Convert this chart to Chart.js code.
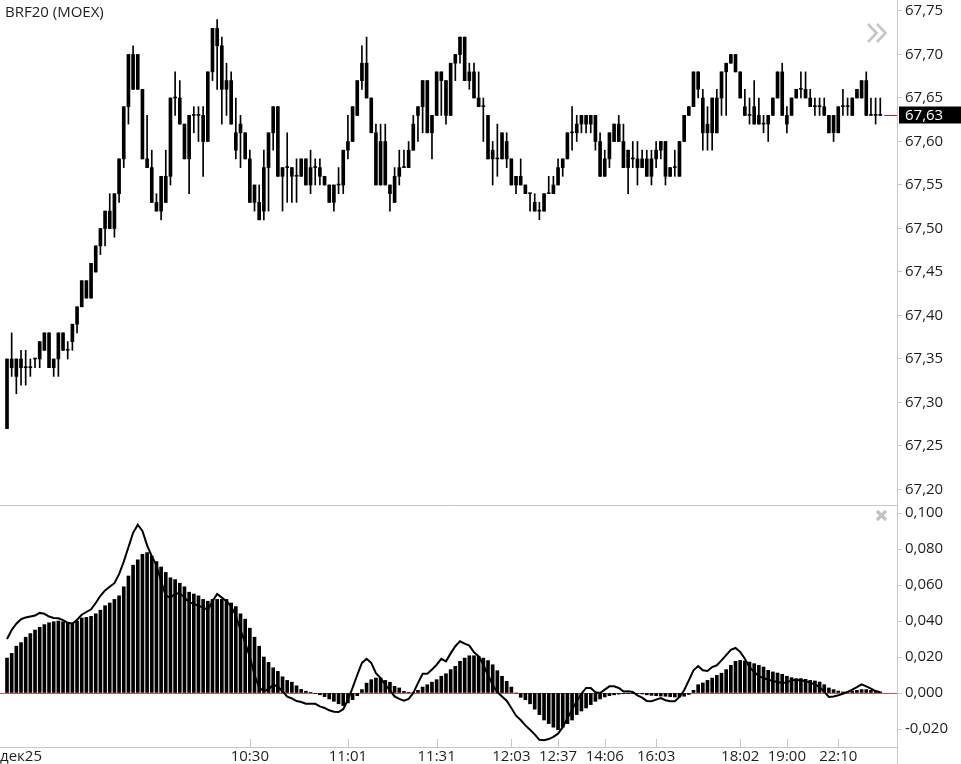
<!DOCTYPE html>
<html>
<head>
<meta charset="utf-8">
<script src="https://cdn.jsdelivr.net/npm/chart.js@4.4.1/dist/chart.umd.min.js"></script>
<style>
    body { margin: 0; background: #fff; }
    #wrap { position: relative; width: 961px; height: 764px; overflow: hidden; font-family: "Open Sans", sans-serif; }
    #price-canvas { position: absolute; left: 0; top: 0; }
    #macd-canvas { position: absolute; left: 0; top: 506px; }
    #title { position: absolute; left: 5px; top: 1px; font-size: 15px; color: #1e1e1e; white-space: nowrap; }
    #icons { position: absolute; left: 0; top: 0; pointer-events: none; }
</style>
</head>
<body>
<div id="wrap">
    <canvas id="price-canvas" width="961" height="506"></canvas>
    <canvas id="macd-canvas" width="961" height="258"></canvas>
    <div id="title">BRF20 (MOEX)</div>
    <svg id="icons" width="961" height="764">
        <polyline points="868,24 876.5,33 868,42" fill="none" stroke="#c6c6c6" stroke-width="2.6"/>
        <polyline points="877,24 885.5,33 877,42" fill="none" stroke="#c6c6c6" stroke-width="2.6"/>
        <line x1="877" y1="511" x2="886" y2="520" stroke="#c2c2c2" stroke-width="3.2"/>
        <line x1="886" y1="511" x2="877" y2="520" stroke="#c2c2c2" stroke-width="3.2"/>
    </svg>
</div>
<script>
const opens = [
    67.27, 67.35, 67.33, 67.35, 67.34, 67.34, 67.35, 67.35, 67.36, 67.38,
    67.34, 67.35, 67.38, 67.36, 67.37, 67.39, 67.41, 67.44, 67.42, 67.45,
    67.48, 67.50, 67.52, 67.50, 67.54, 67.58, 67.64, 67.70, 67.66, 67.66,
    67.58, 67.57, 67.53, 67.52, 67.56, 67.56, 67.65, 67.65, 67.62, 67.58,
    67.63, 67.63, 67.63, 67.60, 67.68, 67.73, 67.71, 67.67, 67.67, 67.61,
    67.61, 67.61, 67.58, 67.53, 67.53, 67.52, 67.57, 67.61, 67.64, 67.56,
    67.57, 67.57, 67.56, 67.56, 67.58, 67.55, 67.57, 67.57, 67.56, 67.55,
    67.53, 67.55, 67.55, 67.59, 67.60, 67.63, 67.67, 67.69, 67.65, 67.61,
    67.55, 67.60, 67.55, 67.53, 67.56, 67.57, 67.57, 67.59, 67.63, 67.64,
    67.67, 67.61, 67.63, 67.68, 67.67, 67.63, 67.69, 67.70, 67.72, 67.67,
    67.68, 67.65, 67.64, 67.63, 67.58, 67.58, 67.58, 67.60, 67.58, 67.55,
    67.56, 67.55, 67.54, 67.53, 67.52, 67.52, 67.54, 67.54, 67.55, 67.57,
    67.58, 67.61, 67.61, 67.62, 67.63, 67.62, 67.63, 67.60, 67.56, 67.58,
    67.60, 67.62, 67.60, 67.57, 67.58, 67.58, 67.57, 67.58, 67.56, 67.58,
    67.59, 67.60, 67.56, 67.57, 67.56, 67.60, 67.63, 67.64, 67.68, 67.65,
    67.61, 67.61, 67.65, 67.65, 67.68, 67.69, 67.70, 67.68, 67.64, 67.63,
    67.64, 67.62, 67.62, 67.62, 67.63, 67.65, 67.68, 67.63, 67.63, 67.65,
    67.66, 67.66, 67.65, 67.64, 67.64, 67.64, 67.63, 67.61, 67.61, 67.64,
    67.64, 67.63, 67.65, 67.65, 67.67, 67.63, 67.63, 67.63,
];
const highs = [
    67.35, 67.38, 67.35, 67.36, 67.36, 67.35, 67.35, 67.37, 67.38, 67.38,
    67.35, 67.38, 67.38, 67.37, 67.39, 67.41, 67.44, 67.44, 67.46, 67.48,
    67.50, 67.52, 67.54, 67.54, 67.58, 67.64, 67.70, 67.71, 67.70, 67.66,
    67.63, 67.59, 67.54, 67.56, 67.59, 67.65, 67.68, 67.67, 67.62, 67.63,
    67.64, 67.64, 67.64, 67.68, 67.73, 67.74, 67.72, 67.69, 67.68, 67.65,
    67.63, 67.61, 67.59, 67.55, 67.55, 67.59, 67.61, 67.64, 67.64, 67.57,
    67.61, 67.57, 67.58, 67.58, 67.58, 67.59, 67.58, 67.58, 67.56, 67.55,
    67.55, 67.57, 67.59, 67.63, 67.64, 67.67, 67.71, 67.72, 67.65, 67.62,
    67.62, 67.62, 67.55, 67.57, 67.59, 67.59, 67.60, 67.63, 67.64, 67.67,
    67.67, 67.63, 67.68, 67.68, 67.67, 67.69, 67.70, 67.72, 67.72, 67.69,
    67.69, 67.68, 67.65, 67.63, 67.60, 67.62, 67.61, 67.61, 67.58, 67.56,
    67.58, 67.55, 67.54, 67.54, 67.53, 67.54, 67.56, 67.56, 67.58, 67.58,
    67.61, 67.64, 67.63, 67.63, 67.63, 67.63, 67.63, 67.61, 67.59, 67.61,
    67.62, 67.63, 67.62, 67.59, 67.60, 67.60, 67.59, 67.59, 67.59, 67.60,
    67.60, 67.60, 67.57, 67.59, 67.60, 67.63, 67.64, 67.68, 67.68, 67.66,
    67.64, 67.65, 67.66, 67.68, 67.69, 67.70, 67.70, 67.68, 67.66, 67.65,
    67.67, 67.65, 67.63, 67.63, 67.65, 67.68, 67.69, 67.64, 67.65, 67.66,
    67.68, 67.68, 67.66, 67.65, 67.65, 67.65, 67.63, 67.63, 67.64, 67.66,
    67.65, 67.65, 67.66, 67.67, 67.68, 67.65, 67.65, 67.65,
];
const lows = [
    67.27, 67.33, 67.31, 67.32, 67.32, 67.33, 67.34, 67.34, 67.36, 67.34,
    67.33, 67.33, 67.36, 67.35, 67.36, 67.38, 67.41, 67.42, 67.42, 67.45,
    67.47, 67.48, 67.50, 67.49, 67.53, 67.57, 67.62, 67.66, 67.66, 67.58,
    67.57, 67.53, 67.52, 67.51, 67.53, 67.55, 67.63, 67.62, 67.58, 67.54,
    67.61, 67.60, 67.56, 67.60, 67.67, 67.66, 67.62, 67.63, 67.62, 67.58,
    67.57, 67.58, 67.53, 67.52, 67.51, 67.51, 67.52, 67.59, 67.56, 67.52,
    67.53, 67.53, 67.53, 67.56, 67.55, 67.54, 67.55, 67.55, 67.55, 67.53,
    67.52, 67.54, 67.54, 67.58, 67.60, 67.63, 67.66, 67.65, 67.61, 67.55,
    67.55, 67.55, 67.52, 67.53, 67.55, 67.57, 67.57, 67.59, 67.60, 67.61,
    67.61, 67.58, 67.63, 67.63, 67.62, 67.63, 67.67, 67.69, 67.67, 67.66,
    67.65, 67.64, 67.60, 67.58, 67.55, 67.56, 67.58, 67.57, 67.55, 67.54,
    67.55, 67.54, 67.52, 67.52, 67.51, 67.52, 67.54, 67.54, 67.55, 67.56,
    67.58, 67.59, 67.60, 67.61, 67.61, 67.61, 67.59, 67.56, 67.56, 67.57,
    67.60, 67.60, 67.57, 67.54, 67.57, 67.55, 67.57, 67.56, 67.55, 67.57,
    67.58, 67.55, 67.56, 67.56, 67.56, 67.60, 67.63, 67.64, 67.65, 67.59,
    67.59, 67.59, 67.61, 67.63, 67.63, 67.69, 67.68, 67.65, 67.63, 67.62,
    67.62, 67.62, 67.61, 67.60, 67.63, 67.65, 67.63, 67.61, 67.63, 67.65,
    67.65, 67.65, 67.64, 67.63, 67.63, 67.63, 67.61, 67.60, 67.61, 67.63,
    67.63, 67.63, 67.65, 67.65, 67.63, 67.63, 67.62, 67.63,
];
const closes = [
    67.35, 67.34, 67.35, 67.34, 67.34, 67.34, 67.35, 67.37, 67.38, 67.34,
    67.35, 67.38, 67.36, 67.36, 67.39, 67.41, 67.44, 67.42, 67.46, 67.48,
    67.50, 67.52, 67.50, 67.54, 67.58, 67.64, 67.70, 67.66, 67.70, 67.58,
    67.57, 67.53, 67.52, 67.56, 67.53, 67.65, 67.65, 67.62, 67.58, 67.63,
    67.63, 67.63, 67.60, 67.68, 67.73, 67.71, 67.66, 67.66, 67.62, 67.59,
    67.62, 67.58, 67.53, 67.55, 67.51, 67.57, 67.61, 67.64, 67.56, 67.57,
    67.57, 67.56, 67.56, 67.58, 67.55, 67.57, 67.57, 67.56, 67.55, 67.53,
    67.55, 67.55, 67.59, 67.60, 67.64, 67.67, 67.69, 67.65, 67.61, 67.55,
    67.60, 67.55, 67.54, 67.56, 67.57, 67.57, 67.59, 67.62, 67.64, 67.67,
    67.61, 67.63, 67.68, 67.67, 67.63, 67.69, 67.70, 67.72, 67.67, 67.68,
    67.65, 67.64, 67.64, 67.58, 67.59, 67.58, 67.61, 67.58, 67.55, 67.56,
    67.55, 67.54, 67.54, 67.52, 67.52, 67.54, 67.54, 67.55, 67.57, 67.58,
    67.61, 67.61, 67.62, 67.63, 67.62, 67.63, 67.60, 67.56, 67.58, 67.61,
    67.62, 67.60, 67.57, 67.59, 67.58, 67.57, 67.58, 67.56, 67.58, 67.59,
    67.60, 67.56, 67.57, 67.57, 67.60, 67.63, 67.64, 67.68, 67.66, 67.61,
    67.62, 67.65, 67.61, 67.68, 67.69, 67.70, 67.68, 67.65, 67.63, 67.63,
    67.62, 67.63, 67.62, 67.63, 67.65, 67.68, 67.63, 67.62, 67.65, 67.66,
    67.66, 67.65, 67.64, 67.64, 67.64, 67.63, 67.61, 67.63, 67.64, 67.64,
    67.64, 67.65, 67.66, 67.67, 67.63, 67.63, 67.63, 67.63,
];

const macdHist = [
    0.0194, 0.022, 0.026, 0.028, 0.031, 0.033, 0.035, 0.0365, 0.038, 0.039,
    0.0396, 0.040, 0.0396, 0.039, 0.039, 0.040, 0.0417, 0.042, 0.0426, 0.044,
    0.046, 0.0485, 0.050, 0.052, 0.054, 0.059, 0.065, 0.071, 0.074, 0.077,
    0.078, 0.076, 0.073, 0.070, 0.067, 0.064, 0.063, 0.061, 0.059, 0.056,
    0.055, 0.054, 0.052, 0.051, 0.052, 0.052, 0.052, 0.052, 0.050, 0.048,
    0.044, 0.041, 0.036, 0.031, 0.026, 0.020, 0.017, 0.014, 0.012, 0.009,
    0.007, 0.006, 0.004, 0.002, 0.001, 0.0004, -0.0003, -0.001, -0.002, -0.0033,
    -0.0046, -0.006, -0.007, -0.0055, -0.0037, -0.0015, 0.0019, 0.0055, 0.0074, 0.0083,
    0.0083, 0.007, 0.006, 0.0037, 0.0028, 0.0009, 0.0004, 0.0004, 0.0015, 0.0033,
    0.0046, 0.006, 0.0074, 0.0093, 0.0107, 0.013, 0.0148, 0.0176, 0.0194, 0.0207,
    0.0207, 0.0204, 0.0194, 0.018, 0.0157, 0.0124, 0.0093, 0.0065, 0.0033, 0,
    -0.0024, -0.0037, -0.006, -0.009, -0.012, -0.015, -0.017, -0.019, -0.0204, -0.019,
    -0.017, -0.015, -0.012, -0.010, -0.0083, -0.0065, -0.0046, -0.0033, -0.0022, -0.0015,
    -0.001, -0.0006, -0.0004, -0.0002, -0.0002, -0.0003, -0.0005, -0.001, -0.0013, -0.0015,
    -0.0017, -0.0018, -0.002, -0.0022, -0.0022, -0.0018, -0.0008, 0.0015, 0.0046, 0.0056,
    0.007, 0.0083, 0.0098, 0.011, 0.013, 0.0154, 0.0176, 0.0181, 0.0178, 0.0172,
    0.0163, 0.0154, 0.0144, 0.0126, 0.0117, 0.0111, 0.0104, 0.0093, 0.0085, 0.008,
    0.008, 0.0076, 0.007, 0.0067, 0.0061, 0.0046, 0.0028, 0.0019, 0.0011, 0.0006,
    0.0006, 0.0011, 0.0015, 0.0019, 0.0019, 0.0015, 0.0011, 0.0006,
];
const macdLine = [
    0.030, 0.035, 0.0385, 0.041, 0.042, 0.0425, 0.043, 0.0445, 0.044, 0.0425,
    0.0417, 0.0415, 0.0405, 0.039, 0.0385, 0.0407, 0.0435, 0.045, 0.0465, 0.050,
    0.054, 0.057, 0.059, 0.061, 0.066, 0.073, 0.081, 0.089, 0.0935, 0.090,
    0.082, 0.076, 0.071, 0.062, 0.054, 0.053, 0.055, 0.0555, 0.053, 0.0505,
    0.0495, 0.0485, 0.0475, 0.046, 0.051, 0.055, 0.053, 0.051, 0.048, 0.043,
    0.035, 0.028, 0.020, 0.010, 0.003, 0.001, 0.002, 0.0046, 0.0035, 0.001,
    -0.002, -0.003, -0.0045, -0.005, -0.006, -0.006, -0.006, -0.0074, -0.0083, -0.0096,
    -0.0104, -0.0106, -0.009, -0.0037, 0.0028, 0.010, 0.0167, 0.019, 0.0167, 0.011,
    0.0083, 0.0046, 0.0015, -0.0019, -0.0033, -0.0043, -0.0033, 0, 0.0055, 0.0107,
    0.0107, 0.013, 0.0157, 0.019, 0.0176, 0.022, 0.026, 0.0287, 0.0274, 0.0263,
    0.0226, 0.0204, 0.0157, 0.010, 0.0046, 0.0005, -0.0019, -0.0043, -0.0083, -0.0126,
    -0.015, -0.018, -0.0204, -0.023, -0.026, -0.0263, -0.0256, -0.0244, -0.0226, -0.019,
    -0.014, -0.0093, -0.0046, -0.0004, 0.0028, 0.0028, 0.0004, 0, 0.0019, 0.0037,
    0.0037, 0.0028, 0.0009, 0.001, 0.0006, -0.0013, -0.0026, -0.0044, -0.0046, -0.0037,
    -0.0028, -0.004, -0.0046, -0.0046, -0.0022, 0.0015, 0.007, 0.0126, 0.015, 0.0126,
    0.0122, 0.0144, 0.0154, 0.0181, 0.021, 0.024, 0.025, 0.0228, 0.019, 0.0144,
    0.0117, 0.0094, 0.0083, 0.0074, 0.0067, 0.0061, 0.0056, 0.0059, 0.007, 0.0074,
    0.007, 0.0067, 0.0056, 0.0048, 0.0033, 0.0006, -0.0022, -0.0019, -0.0013, -0.0004,
    0.0006, 0.0019, 0.0033, 0.0048, 0.0037, 0.0024, 0.0011, 0.0004,
];

const priceTicks = [67.20, 67.25, 67.30, 67.35, 67.40, 67.45, 67.50, 67.55, 67.60, 67.65, 67.70, 67.75];
const macdTicks = [-0.02, 0, 0.02, 0.04, 0.06, 0.08, 0.1];
const timeLabels = ['дек25', '10:30', '11:01', '11:31', '12:03', '12:37', '14:06', '16:03', '18:02', '19:00', '22:10'];
const timeIndex = [3, 52, 73, 92, 108, 118, 128, 139, 157, 167, 178];

const GRAY = '#c8c8c8';
const TEXT = '#1e1e1e';
const X_MIN = -1.5;
const X_MAX = 190.58;
const AXIS_W = 64;

Chart.defaults.font.family = '"Open Sans", sans-serif';
Chart.defaults.font.size = 15;
Chart.defaults.color = TEXT;

const idx = opens.map((_, i) => i);
const commaFmt = (digits) => (v) => v.toFixed(digits).replace('.', ',');

function yAxis(min, max, ticks, digits) {
    return {
        position: 'right',
        min,
        max,
        afterBuildTicks: (scale) => { scale.ticks = ticks.map((v) => ({ value: v })); },
        afterFit: (scale) => {
            scale.width = AXIS_W;
            scale.paddingTop = 0;
            scale.paddingBottom = 0;
        },
        grid: { drawOnChartArea: false, drawTicks: true, tickLength: 5, color: GRAY },
        border: { display: true, color: GRAY },
        ticks: { padding: 3, color: TEXT, callback: commaFmt(digits) },
    };
}

const lastPricePlugin = {
    id: 'lastPrice',
    afterDraw(chart) {
        const { ctx, chartArea, scales } = chart;
        const last = closes[closes.length - 1];
        const y = Math.round(scales.y.getPixelForValue(last)) + 0.5;
        ctx.save();
        ctx.lineWidth = 1;
        ctx.strokeStyle = '#a03232';
        ctx.beginPath();
        ctx.moveTo(scales.x.getPixelForValue(closes.length - 1) + 4, y);
        ctx.lineTo(chartArea.right, y);
        ctx.stroke();

        ctx.fillStyle = '#000';
        ctx.fillRect(chartArea.right + 2, y - 9, chart.width - chartArea.right - 2, 17);
        ctx.fillStyle = '#fff';
        ctx.font = '15px "Open Sans"';
        ctx.textBaseline = 'middle';
        ctx.fillText(commaFmt(2)(last), chartArea.right + 8, y + 0.5);

        ctx.strokeStyle = GRAY;
        ctx.beginPath();
        ctx.moveTo(0, chart.height - 0.5);
        ctx.lineTo(chartArea.right, chart.height - 0.5);
        ctx.stroke();
        ctx.restore();
    },
};

const macdPanePlugin = {
    id: 'macdPane',
    beforeDatasetsDraw(chart) {
        const { ctx, chartArea, scales } = chart;
        const y0 = Math.round(scales.y.getPixelForValue(0)) + 0.5;
        ctx.save();
        ctx.strokeStyle = '#a86464';
        ctx.lineWidth = 1;
        ctx.beginPath();
        ctx.moveTo(chartArea.left, y0);
        ctx.lineTo(chartArea.right, y0);
        ctx.stroke();
        ctx.restore();
    },
    afterDraw(chart) {
        const { ctx, chartArea, scales } = chart;
        ctx.save();
        ctx.strokeStyle = GRAY;
        ctx.lineWidth = 1;
        ctx.beginPath();
        timeIndex.slice(1).forEach((v) => {
            const x = Math.round(scales.x.getPixelForValue(v)) + 0.5;
            ctx.moveTo(x, chartArea.bottom - 8);
            ctx.lineTo(x, chartArea.bottom);
        });
        ctx.moveTo(chartArea.right + 0.5, chartArea.bottom);
        ctx.lineTo(chartArea.right + 0.5, chart.height);
        ctx.stroke();
        ctx.restore();
    },
};

new Chart(document.getElementById('price-canvas'), {
    type: 'bar',
    data: {
        datasets: [
            {
                label: 'wick',
                data: idx.map((i) => ({ x: i, y: [lows[i], highs[i]] })),
                backgroundColor: '#000',
                barThickness: 1,
                minBarLength: 1,
                grouped: false,
            },
            {
                label: 'body',
                data: idx.map((i) => ({ x: i, y: [opens[i], closes[i]] })),
                backgroundColor: '#000',
                barThickness: 3,
                minBarLength: 1,
                grouped: false,
            },
        ],
    },
    options: {
        responsive: false,
        animation: false,
        devicePixelRatio: 1,
        events: [],
        layout: { padding: 0 },
        plugins: { legend: { display: false }, tooltip: { enabled: false } },
        scales: {
            x: { type: 'linear', min: X_MIN, max: X_MAX, offset: false, display: false },
            y: yAxis(67.18103, 67.76264, priceTicks, 2),
        },
    },
    plugins: [lastPricePlugin],
});

new Chart(document.getElementById('macd-canvas'), {
    type: 'bar',
    data: {
        datasets: [
            {
                type: 'line',
                label: 'signal',
                data: idx.map((i) => ({ x: i, y: macdLine[i] })),
                borderColor: '#000',
                borderWidth: 2,
                pointRadius: 0,
                tension: 0,
                order: 0,
            },
            {
                label: 'macd',
                data: idx.map((i) => ({ x: i, y: macdHist[i] })),
                backgroundColor: '#000',
                barThickness: 3,
                grouped: false,
                order: 1,
            },
        ],
    },
    options: {
        responsive: false,
        animation: false,
        devicePixelRatio: 1,
        events: [],
        layout: { padding: 0 },
        plugins: { legend: { display: false }, tooltip: { enabled: false } },
        scales: {
            x: {
                type: 'linear',
                min: X_MIN,
                max: X_MAX,
                offset: false,
                position: 'bottom',
                afterBuildTicks: (scale) => { scale.ticks = timeIndex.map((v) => ({ value: v })); },
                afterFit: (scale) => {
                    scale.height = 17;
                    scale.paddingLeft = 0;
                    scale.paddingRight = 0;
                },
                grid: { drawOnChartArea: false, drawTicks: false, offset: false },
                border: { display: true, color: GRAY },
                ticks: {
                    autoSkip: false,
                    maxRotation: 0,
                    padding: 1,
                    color: TEXT,
                    callback: (v) => timeLabels[timeIndex.indexOf(v)],
                },
            },
            y: yAxis(-0.03, 0.10389, macdTicks, 3),
        },
    },
    plugins: [macdPanePlugin],
});
</script>
</body>
</html>
